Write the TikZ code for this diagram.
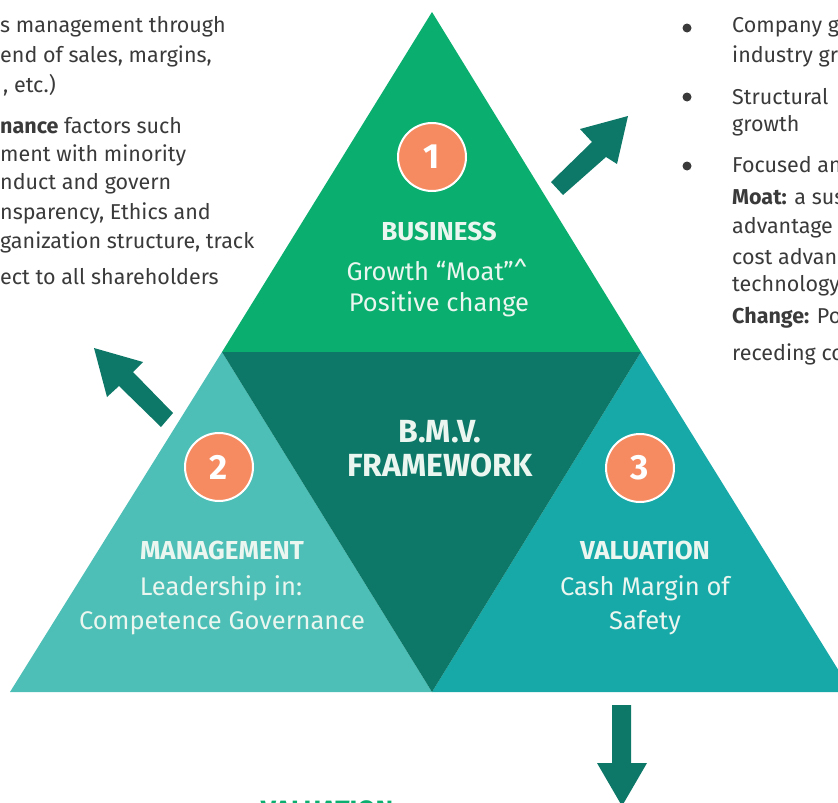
\documentclass[tikz,border=0pt]{standalone}
\usepackage{fontspec}
\setmainfont{Fira Sans}
\definecolor{cgreen}{HTML}{0AAE6E}
\definecolor{cdark}{HTML}{0D7868}
\definecolor{cleft}{HTML}{4DBFB6}
\definecolor{cright}{HTML}{17A9A8}
\definecolor{corange}{HTML}{F68B62}
\definecolor{clabel}{HTML}{EAF6EF}
\definecolor{ctext}{HTML}{3A3A3A}
\begin{document}
\begin{tikzpicture}[x=1pt,y=-1pt,
  side/.style={anchor=west, text=ctext, inner sep=0pt, font=\fontsize{21.5}{25}\selectfont},
  head/.style={text=clabel, inner sep=0pt, font=\fontsize{26}{30}\selectfont\bfseries},
  sub/.style={text=clabel, inner sep=0pt, font=\fontsize{25.5}{30}\selectfont},
  num/.style={circle, fill=corange, draw=white, line width=2pt, minimum size=68pt, inner sep=0pt, text=white, font=\fontsize{35}{35}\selectfont\bfseries},
  dot/.style={circle, fill=ctext, inner sep=0pt, minimum size=9pt},
  bigarrow/.style={fill=cdark}]
\useasboundingbox (0,0) rectangle (838,803);
\clip (0,0) rectangle (838,803);
% corners
\coordinate (apex) at (432,12);
\coordinate (ml) at (222,352);
\coordinate (mr) at (641,352);
\coordinate (bl) at (10,692);
\coordinate (bm) at (432,692);
\coordinate (br) at (852,692);
% triangles
\fill[cgreen] (apex) -- (ml) -- (mr) -- cycle;
\fill[cleft] (ml) -- (bl) -- (bm) -- cycle;
\fill[cright] (mr) -- (bm) -- (br) -- cycle;
\fill[cdark] (ml) -- (mr) -- (bm) -- cycle;
% arrows
\fill[bigarrow] (628,116) -- (580,129) -- (592,142) -- (551,182) -- (563,195) -- (606,157) -- (617,164) -- cycle;
\fill[bigarrow] (94,348) -- (143,362) -- (133,372) -- (173,413) -- (161,427) -- (119,386) -- (107,397) -- cycle;
\fill[bigarrow] (612,705) -- (631,705) -- (631,763) -- (647,763) -- (622,806) -- (597,763) -- (612,763) -- cycle;
% circles
\node[num] (n1) at (432,157) {1};
\node[num] (n2) at (219,467) {2};
\node[num] (n3) at (640,468) {3};
% labels in triangles
\node[head] (b1) at (439,231) {BUSINESS};
\node[sub] (b2) at (437,270) {Growth “Moat”\^{}};
\node[sub] (b3) at (439,304) {Positive change};
\node[head, font=\fontsize{32}{36}\selectfont\bfseries] (c1) at (440,432) {B.M.V.};
\node[head, font=\fontsize{32}{36}\selectfont\bfseries] (c2) at (440,465) {FRAMEWORK};
\node[head] (m1) at (222,550) {MANAGEMENT};
\node[sub] (m2) at (221,588) {Leadership in:};
\node[sub] (m3) at (222,623) {Competence Governance};
\node[head] (v1) at (645,550) {VALUATION};
\node[sub] (v2) at (645,588) {Cash Margin of};
\node[sub] (v3) at (645,623) {Safety};
% bottom cut label
\node[text=cgreen, inner sep=0pt, font=\fontsize{26.5}{30}\selectfont\bfseries] (bv) at (327,810) {VALUATION};
% left text
\node[side] (l1) at (0,27) {s management through};
\node[side] (l2) at (0,56) {end of sales, margins,};
\node[side] (l3) at (3,85) {, etc.)};
\node[side] (l4) at (0,126) {\textbf{nance} factors such};
\node[side] (l5) at (0,155) {ment with minority};
\node[side] (l6) at (0,184) {nduct and govern};
\node[side] (l7) at (0,213) {nsparency, Ethics and};
\node[side] (l8) at (0,242) {ganization structure, track};
\node[side] (l9) at (0,277) {ect to all shareholders};
% right text
\node[dot] (d1) at (687,28) {};
\node[dot] (d2) at (687,97) {};
\node[dot] (d3) at (687,166) {};
\node[side] (r1) at (732,27) {Company g};
\node[side] (r2) at (732,56) {industry gr};
\node[side] (r3) at (732,97) {Structural};
\node[side] (r4) at (732,126) {growth};
\node[side] (r5) at (732,165) {Focused an};
\node[side] (r6) at (732,197) {\textbf{Moat:} a sus};
\node[side] (r7) at (732,228) {advantage};
\node[side] (r8) at (732,257) {cost advan};
\node[side] (r9) at (732,286) {technology};
\node[side] (r10) at (732,318) {\textbf{Change:} Po};
\node[side] (r11) at (732,354) {receding co};
\end{tikzpicture}
\end{document}
